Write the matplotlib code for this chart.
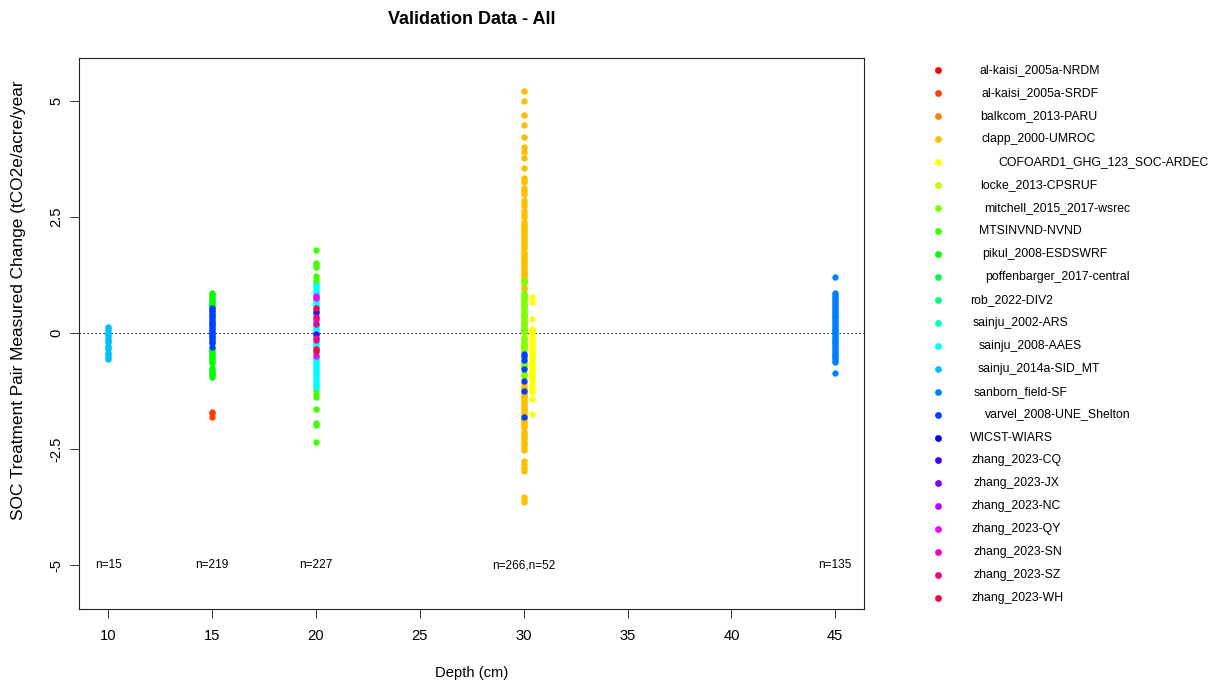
import colorsys
import matplotlib
matplotlib.use("Agg")
import matplotlib.pyplot as plt

plt.rcParams["font.family"] = ["Liberation Sans", "DejaVu Sans"]

# ---- data -----------------------------------------------------------------
studies = [
    "al-kaisi_2005a-NRDM", "al-kaisi_2005a-SRDF", "balkcom_2013-PARU",
    "clapp_2000-UMROC", "COFOARD1_GHG_123_SOC-ARDEC", "locke_2013-CPSRUF",
    "mitchell_2015_2017-wsrec", "MTSINVND-NVND", "pikul_2008-ESDSWRF",
    "poffenbarger_2017-central", "rob_2022-DIV2", "sainju_2002-ARS",
    "sainju_2008-AAES", "sainju_2014a-SID_MT", "sanborn_field-SF",
    "varvel_2008-UNE_Shelton", "WICST-WIARS", "zhang_2023-CQ", "zhang_2023-JX",
    "zhang_2023-NC", "zhang_2023-QY", "zhang_2023-SN", "zhang_2023-SZ",
    "zhang_2023-WH",
]

alkaisi_nrdm_15 = [-1.73]
alkaisi_srdf_15 = [-1.70, -1.80]
clapp_30 = [5.22, 5.01, 4.71, 4.49, 4.23, 4.01, 3.91, 3.77, 3.56, 3.35, 3.30,
            3.26, 3.12, 3.06, 3.01, 2.87, 2.80, 2.74, 2.63, 2.57, 2.51, 2.40,
            2.36, 2.32, 2.28, 2.24, 2.20, 2.16, 2.12, 2.08, 2.04, 2.00, 1.96,
            1.92, 1.88, 1.83, 1.75, 1.71, 1.67, 1.63, 1.59, 1.55, 1.51, 1.47,
            1.43, 1.39, 1.35, 1.31, 1.27, 1.23, 1.19, 1.14, 1.00, 0.95, 0.80,
            0.60, 0.40, 0.20, 0.05, -0.10, -0.25, -0.35, -0.50, -0.65, -0.70,
            -0.85, -0.90, -1.10, -1.15, -1.20, -1.26, -1.30, -1.34, -1.38,
            -1.42, -1.46, -1.50, -1.54, -1.58, -1.62, -1.66, -1.70, -1.74,
            -1.78, -1.82, -1.86, -1.90, -1.94, -1.98, -2.02, -2.13, -2.17,
            -2.21, -2.25, -2.29, -2.34, -2.38, -2.42, -2.47, -2.52, -2.75,
            -2.81, -2.90, -2.97, -3.53, -3.58, -3.64]
cofoard_30 = [0.78, 0.67, 0.30, 0.08, 0.04, 0.00, -0.04, -0.08, -0.12, -0.16,
              -0.20, -0.24, -0.28, -0.32, -0.36, -0.40, -0.44, -0.48, -0.52,
              -0.56, -0.60, -0.64, -0.68, -0.72, -0.76, -0.80, -0.84, -0.88,
              -0.92, -0.96, -1.01, -1.10, -1.15, -1.20, -1.26, -1.41, -1.75]
mitchell_30 = [1.14, 1.11, 1.08, 0.86, 0.82, 0.78, 0.74, 0.71, 0.66, 0.62,
               0.58, 0.54, 0.50, 0.46, 0.42, 0.38, 0.34, 0.30, 0.26, 0.22,
               0.18, 0.14, 0.10, 0.06, 0.02, -0.11, -0.15, -0.19, -0.23,
               -0.27, -0.30, -0.38, -0.55, -0.62, -0.68, -0.72, -0.88, -0.94]
mtsinvnd_20 = [1.80, 1.52, 1.48, 1.42, 1.23, 1.14, 1.09, -1.23, -1.30, -1.37,
               -1.64, -1.93, -1.97, -2.35]
pikul_15 = [0.87, 0.84, 0.80, 0.76, 0.72, 0.68, 0.64, 0.60, 0.57, 0.40, 0.20,
            0.00, -0.20, -0.32, -0.36, -0.40, -0.44, -0.48, -0.52, -0.56,
            -0.60, -0.65, -0.75, -0.79, -0.83, -0.87, -0.91, -0.94]
sainju_2008_20 = [1.03, 0.99, 0.95, 0.91, 0.87, 0.83, 0.79, 0.75, 0.71, 0.67,
                  0.63, 0.59, 0.55, 0.51, 0.47, 0.43, 0.39, 0.35, 0.31, 0.27,
                  0.23, 0.19, 0.15, 0.11, 0.07, 0.03, -0.01, -0.05, -0.09,
                  -0.13, -0.17, -0.21, -0.25, -0.29, -0.33, -0.37, -0.41,
                  -0.45, -0.49, -0.53, -0.57, -0.61, -0.65, -0.69, -0.73,
                  -0.77, -0.81, -0.85, -0.89, -0.93, -0.97, -1.01, -1.05,
                  -1.09, -1.12, -1.16]
sainju_2014a_10 = [0.13, 0.10, 0.02, -0.02, -0.05, -0.12, -0.17, -0.20, -0.28,
                   -0.30, -0.35, -0.42, -0.45, -0.52, -0.56]
sanborn_45 = [1.20, 0.86, 0.82, 0.78, 0.74, 0.70, 0.66, 0.62, 0.58, 0.54,
              0.50, 0.46, 0.42, 0.38, 0.34, 0.30, 0.26, 0.22, 0.18, 0.14,
              0.10, 0.06, 0.02, -0.02, -0.06, -0.10, -0.14, -0.18, -0.22,
              -0.26, -0.30, -0.34, -0.38, -0.42, -0.46, -0.50, -0.54, -0.58,
              -0.62, -0.86]
varvel_15 = [0.55, 0.51, 0.47, 0.43, 0.39, 0.35, 0.31, 0.27, 0.23, 0.19,
             0.15, 0.11, 0.07, 0.03, -0.01, -0.05, -0.09, -0.13, -0.17, -0.22,
             -0.30]
varvel_30 = [-0.45, -0.50, -0.58, -0.78, -1.03, -1.25, -1.80]
zhang_cq_20 = [0.46, -0.01]
zhang_qy_20 = [0.80, 0.76, -0.49]
zhang_sn_20 = [0.30, -0.10]
zhang_sz_20 = [0.34, 0.19, -0.15]
zhang_wh_20 = [0.545, -0.345, -0.38]

# (study, depth in cm, values); COFOARD is drawn just right of 30 cm
records = [
    ("al-kaisi_2005a-NRDM", 15, alkaisi_nrdm_15),
    ("al-kaisi_2005a-SRDF", 15, alkaisi_srdf_15),
    ("clapp_2000-UMROC", 30, clapp_30),
    ("COFOARD1_GHG_123_SOC-ARDEC", 30.4, cofoard_30),
    ("mitchell_2015_2017-wsrec", 30, mitchell_30),
    ("MTSINVND-NVND", 20, mtsinvnd_20),
    ("pikul_2008-ESDSWRF", 15, pikul_15),
    ("sainju_2008-AAES", 20, sainju_2008_20),
    ("sainju_2014a-SID_MT", 10, sainju_2014a_10),
    ("sanborn_field-SF", 45, sanborn_45),
    ("varvel_2008-UNE_Shelton", 15, varvel_15),
    ("varvel_2008-UNE_Shelton", 30, varvel_30),
    ("zhang_2023-CQ", 20, zhang_cq_20),
    ("zhang_2023-QY", 20, zhang_qy_20),
    ("zhang_2023-SN", 20, zhang_sn_20),
    ("zhang_2023-SZ", 20, zhang_sz_20),
    ("zhang_2023-WH", 20, zhang_wh_20),
]

count_depths = [10, 15, 20, 30, 45]
count_labels = ["n=15", "n=219", "n=227", "n=266,n=52", "n=135"]

x_ticks = [10, 15, 20, 25, 30, 35, 40, 45]
y_ticks = [-5, -2.5, 0, 2.5, 5]
y_tick_labels = ["-5", "-2.5", "0", "2.5", "5"]

# left offsets (px) of the legend labels
legend_text_x = [979, 981, 980, 982, 998, 980, 984, 979, 982, 985, 970, 973,
                 979, 978, 974, 985, 970, 972, 974, 972, 972, 973, 973, 971]

# ---- figure ----------------------------------------------------------------
W, H = 1216, 681
fig = plt.figure(figsize=(W / 100, H / 100), dpi=100)
left, right, top, bottom = 79.3, 864.3, 58.0, 609.3
ax = fig.add_axes([left / W, 1 - bottom / H, (right - left) / W,
                   (bottom - top) / H])

colors = [colorsys.hsv_to_rgb(i / len(studies), 1.0, 1.0)
          for i in range(len(studies))]
color_of = dict(zip(studies, colors))

ax.axhline(0, color="black", lw=0.8, linestyle=(0, (1.2, 2.4)), zorder=1)

for name, xd, ys in records:
    ax.plot([xd] * len(ys), ys, linestyle="none", marker="o",
            markersize=4.6, markeredgewidth=0, color=color_of[name], zorder=2)

for xd, lab in zip(count_depths, count_labels):
    ax.text(xd, -5, lab, ha="center", va="center", fontsize=8.6)

ax.set_xlim(8.6, 46.4)
ax.set_ylim(-5.95, 5.93)
ax.set_xticks(x_ticks)
ax.set_yticks(y_ticks)
ax.set_yticklabels(y_tick_labels)
for lbl in ax.get_yticklabels():
    lbl.set_rotation(90)
    lbl.set_va("center")
ax.tick_params(direction="out", length=6.5, width=0.7, labelsize=10.6,
               color="#333333")
ax.tick_params(axis="x", pad=8)
ax.tick_params(axis="y", pad=5)
for sp in ax.spines.values():
    sp.set_linewidth(0.8)
    sp.set_color("#222222")

fig.text(471.8 / W, 1 - 20 / H, "Validation Data - All", ha="center",
         va="center", fontsize=13, fontweight="bold")
fig.text(471.8 / W, 1 - 673 / H, "Depth (cm)", ha="center", va="center",
         fontsize=10.6)
fig.text(19 / W, 1 - 300 / H,
         "SOC Treatment Pair Measured Change (tCO2e/acre/year",
         rotation=90, ha="center", va="center", fontsize=12.4)

# ---- legend ----------------------------------------------------------------
lax = fig.add_axes([0, 0, 1, 1])
lax.set_xlim(0, W)
lax.set_ylim(H, 0)
lax.axis("off")
for i, (name, col, tx) in enumerate(zip(studies, colors, legend_text_x)):
    yy = 70 + 22.97 * i
    lax.plot([938.3], [yy], marker="o", markersize=4.9, markeredgewidth=0,
             color=col, linestyle="none")
    lax.text(tx, yy, name, ha="left", va="center", fontsize=8.8)

fig.savefig("out.png", dpi=100)
